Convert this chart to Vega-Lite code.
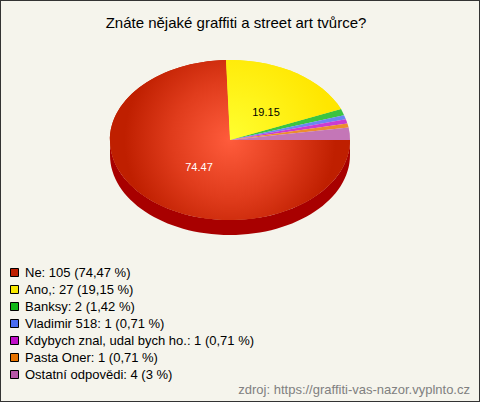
{
  "$schema": "https://vega.github.io/schema/vega-lite/v6.json",
  "width": 480,
  "height": 402,
  "autosize": "none",
  "padding": 0,
  "background": "#f5f4ec",
  "title": {
    "text": "Znáte nějaké graffiti a street art tvůrce?",
    "font": "Liberation Sans",
    "fontSize": 15,
    "fontWeight": "normal",
    "color": "#000000",
    "anchor": "middle",
    "dx": -4,
    "offset": -31
  },
  "data": {
    "values": [
      {"odpoved": "Ne", "label": "Ne: 105 (74,47 %)", "pocet": 105, "podil": 74.47},
      {"odpoved": "Ano,", "label": "Ano,: 27 (19,15 %)", "pocet": 27, "podil": 19.15},
      {"odpoved": "Banksy", "label": "Banksy: 2 (1,42 %)", "pocet": 2, "podil": 1.42},
      {"odpoved": "Vladimir 518", "label": "Vladimir 518: 1 (0,71 %)", "pocet": 1, "podil": 0.71},
      {"odpoved": "Kdybych znal, udal bych ho.", "label": "Kdybych znal, udal bych ho.: 1 (0,71 %)", "pocet": 1, "podil": 0.71},
      {"odpoved": "Pasta Oner", "label": "Pasta Oner: 1 (0,71 %)", "pocet": 1, "podil": 0.71},
      {"odpoved": "Ostatní odpovědi", "label": "Ostatní odpovědi: 4 (3 %)", "pocet": 4, "podil": 3}
    ]
  },
  "encoding": {
    "x": {"datum": 0, "type": "quantitative", "scale": {"domain": [-230, 250]}, "axis": null},
    "y": {"datum": 0, "type": "quantitative", "scale": {"domain": [262, -140]}, "axis": null}
  },
  "layer": [
    {
      "transform": [{"filter": "datum.odpoved === 'Ne'"}],
      "mark": {
        "type": "point",
        "filled": true,
        "size": 4,
        "opacity": 1,
        "color": "#a80000",
        "shape": "M-120,0A120,80 0 0 0 120,0L120,15A120,80 0 0 1 -120,15Z"
      }
    },
    {
      "mark": {"type": "point", "filled": true, "size": 4, "opacity": 1},
      "encoding": {
        "color": {
          "field": "label",
          "type": "nominal",
          "sort": null,
          "scale": {
            "domain": [
              "Ne: 105 (74,47 %)",
              "Ano,: 27 (19,15 %)",
              "Banksy: 2 (1,42 %)",
              "Vladimir 518: 1 (0,71 %)",
              "Kdybych znal, udal bych ho.: 1 (0,71 %)",
              "Pasta Oner: 1 (0,71 %)",
              "Ostatní odpovědi: 4 (3 %)"
            ],
            "range": ["#bf1f00", "#f8e800", "#10b818", "#4a6cf0", "#c010c8", "#e87400", "#b858a8"]
          },
          "legend": {
            "title": null,
            "orient": "none",
            "legendX": 8,
            "legendY": 266,
            "symbolType": "square",
            "symbolSize": 64,
            "symbolStrokeColor": "#000000",
            "symbolStrokeWidth": 1,
            "symbolOpacity": 1,
            "labelFont": "Liberation Sans",
            "labelFontSize": 13,
            "labelColor": "#000000",
            "labelOffset": 4,
            "labelLimit": 300,
            "rowPadding": 3,
            "clipHeight": 13
          }
        },
        "shape": {
          "field": "odpoved",
          "type": "nominal",
          "sort": null,
          "legend": null,
          "scale": {
            "domain": ["Ne", "Ano,", "Banksy", "Vladimir 518", "Kdybych znal, udal bych ho.", "Pasta Oner", "Ostatní odpovědi"],
            "range": [
              "M0,0L120,0A120,80 0 1 1 -4,-80Z",
              "M0,0L-4,-80A120,80 0 0 1 111,-31Z",
              "M0,0L111,-31A120,80 0 0 1 114,-24.7Z",
              "M0,0L114,-24.7A120,80 0 0 1 115.8,-20.7Z",
              "M0,0L115.8,-20.7A120,80 0 0 1 117.3,-16.6Z",
              "M0,0L117.3,-16.6A120,80 0 0 1 118.6,-12.5Z",
              "M0,0L118.6,-12.5A120,80 0 0 1 120,0Z"
            ]
          }
        }
      }
    },
    {
      "transform": [{"filter": "datum.odpoved === 'Ne'"}],
      "mark": {
        "type": "point",
        "filled": true,
        "size": 4,
        "opacity": 1,
        "shape": "M0,0L120,0A120,80 0 1 1 -4,-80Z",
        "fill": {
          "gradient": "radial",
          "x1": 0.5, "y1": 0.5, "r1": 0,
          "x2": 0.5, "y2": 0.5, "r2": 0.44,
          "stops": [
            {"offset": 0, "color": "#ff5c3c"},
            {"offset": 0.55, "color": "#e03c1c"},
            {"offset": 1, "color": "#bf1f00"}
          ]
        }
      }
    },
    {
      "transform": [{"filter": "datum.odpoved === 'Ano,'"}],
      "mark": {
        "type": "point",
        "filled": true,
        "size": 4,
        "opacity": 1,
        "shape": "M0,0L-4,-80A120,80 0 0 1 111,-31Z",
        "fill": {
          "gradient": "radial",
          "x1": 0.035, "y1": 0.85, "r1": 0,
          "x2": 0.035, "y2": 0.85, "r2": 0.9,
          "stops": [
            {"offset": 0, "color": "#ffff30"},
            {"offset": 1, "color": "#ffe600"}
          ]
        }
      }
    },
    {
      "transform": [{"filter": "datum.podil < 4"}],
      "mark": {"type": "point", "filled": true, "size": 4, "opacity": 0.18, "color": "#ffffff"},
      "encoding": {
        "shape": {"field": "odpoved", "type": "nominal", "sort": null, "legend": null}
      }
    },
    {
      "transform": [{"filter": "datum.odpoved === 'Ne'"}],
      "mark": {"type": "text", "font": "Liberation Sans", "fontSize": 11, "color": "#ffffff", "align": "center", "baseline": "middle"},
      "encoding": {
        "x": {"datum": -31},
        "y": {"datum": 28},
        "text": {"field": "podil", "type": "quantitative", "format": ".2f"}
      }
    },
    {
      "transform": [{"filter": "datum.odpoved === 'Ano,'"}],
      "mark": {"type": "text", "font": "Liberation Sans", "fontSize": 11, "color": "#000000", "align": "center", "baseline": "middle"},
      "encoding": {
        "x": {"datum": 36},
        "y": {"datum": -27},
        "text": {"field": "podil", "type": "quantitative", "format": ".2f"}
      }
    },
    {
      "data": {"values": [{"zdroj": "zdroj: https://graffiti-vas-nazor.vyplnto.cz"}]},
      "mark": {"type": "text", "font": "Liberation Sans", "fontSize": 13, "color": "#808080", "align": "right", "baseline": "middle"},
      "encoding": {
        "x": {"datum": 240},
        "y": {"datum": 250},
        "text": {"field": "zdroj", "type": "nominal"}
      }
    }
  ],
  "config": {
    "view": {"stroke": "#333333", "strokeWidth": 2}
  }
}
